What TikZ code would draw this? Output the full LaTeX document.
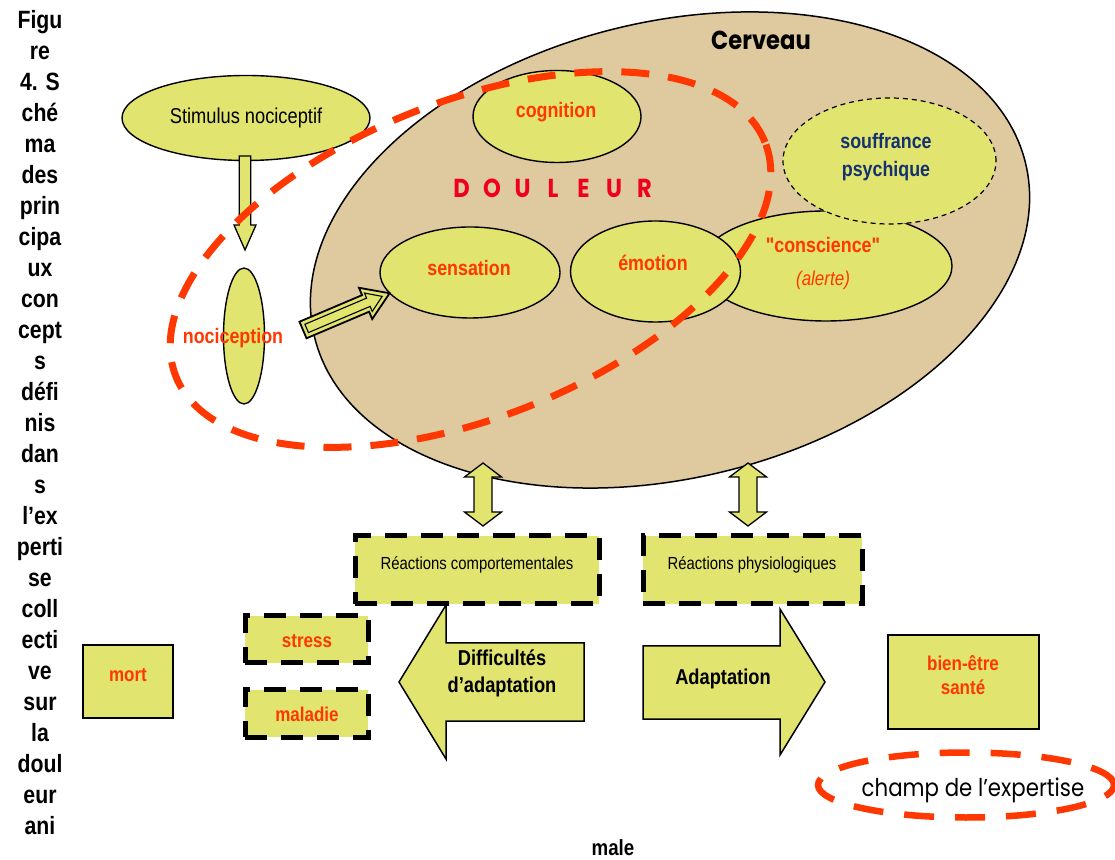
\documentclass[tikz,border=0pt]{standalone}
\usepackage{fontspec}
\setmainfont{Liberation Sans}
\newfontfamily\nar[FakeStretch=0.85]{Liberation Sans}
\newfontfamily\comic[FakeStretch=0.87]{Poppins}
\usetikzlibrary{shapes.geometric}
\definecolor{yel}{RGB}{225,228,110}
\definecolor{tan}{RGB}{222,202,158}
\definecolor{reddash}{RGB}{255,55,0}
\definecolor{redtxt}{RGB}{255,55,0}
\definecolor{doured}{RGB}{238,0,30}
\definecolor{soufblue}{RGB}{20,50,110}
\begin{document}
\begin{tikzpicture}[x=1pt,y=1pt,
 yell/.style={ellipse, draw=black, line width=1.4pt, fill=yel, inner sep=0pt},
 redlbl/.style={font=\nar\bfseries\fontsize{21}{25}\selectfont, text=redtxt, inner sep=0pt, align=center},
 blacklbl/.style={font=\nar\bfseries\fontsize{21.5}{27}\selectfont, text=black, inner sep=0pt, align=center},
 reglbl/.style={font=\nar\fontsize{17.5}{20}\selectfont, inner sep=0pt},
 dbox/.style={rectangle, fill=yel, draw=black, line width=5pt, dash pattern=on 22pt off 14pt, inner sep=0pt},
 sbox/.style={rectangle, fill=yel, draw=black, line width=1.8pt, inner sep=0pt},
 rdash/.style={ellipse, draw=reddash, line width=7pt, dash pattern=on 28pt off 19pt, inner sep=0pt},
 blockarrow/.style={fill=yel, draw=black, line width=1.5pt, line join=miter},
]
\useasboundingbox (0,0) rectangle (1115,859);

% caption
\node[font=\nar\bfseries\fontsize{25}{31}\selectfont, align=center, anchor=north, inner sep=0pt] (caption) at (40,849)
 {Figu\\re\\4. S\\ché\\ma\\des\\prin\\cipa\\ux\\con\\cept\\s\\défi\\nis\\dan\\s\\l’ex\\perti\\se\\coll\\ecti\\ve\\sur\\la\\doul\\eur\\ani};
\node[font=\nar\bfseries\fontsize{22}{26}\selectfont, inner sep=0pt] (male) at (613,11) {male};

% brain
\node[ellipse, draw=black, line width=1.5pt, fill=tan, minimum width=732pt, minimum height=456pt, inner sep=0pt, rotate=13.8] (brain) at (670,609) {};
\node[font=\comic\bfseries\fontsize{26}{30}\selectfont, inner sep=0pt] (cerveau) at (761,819) {Cerveau};

% stimulus
\node[yell, minimum width=248pt, minimum height=85pt, font=\nar\fontsize{21.5}{24}\selectfont] (stim) at (246,741) {Stimulus nociceptif};
\draw[blockarrow, line width=1.3pt] (239.3,703) -- (250.7,703) -- (250.7,634) -- (256,634) -- (245,609) -- (234,634) -- (239.3,634) -- cycle;

% nociception
\node[yell, minimum width=41pt, minimum height=136pt] (noci) at (244,523) {};
\node[redlbl] (nocitxt) at (233,521) {nociception};

% inner ellipses
\node[yell, minimum width=168pt, minimum height=92pt] (cogn) at (557,742.5) {};
\node[redlbl] (cogntxt) at (556,747) {cognition};
\node[yell, minimum width=180pt, minimum height=91pt] (sens) at (470,586.5) {};
\node[redlbl] (senstxt) at (469,591) {sensation};
\node[yell, minimum width=252pt, minimum height=110pt] (cons) at (826,593) {};
\node[ellipse, draw=black, line width=1.2pt, dash pattern=on 5pt off 4pt, fill=yel, inner sep=0pt, minimum width=213pt, minimum height=126pt] (souf) at (889.5,698) {};
\node[font=\nar\bfseries\fontsize{21}{28}\selectfont, text=soufblue, align=center, inner sep=0pt] (souftxt) at (886,702) {souffrance\\psychique};
\node[yell, minimum width=170pt, minimum height=101pt] (emo) at (655.5,587.5) {};
\node[redlbl] (emotxt) at (653,596) {émotion};
\node[redlbl] (constxt) at (823,614) {"conscience"};
\node[font=\nar\itshape\fontsize{20}{24}\selectfont, text=redtxt, inner sep=0pt] (alerte) at (823,579) {(alerte)};

% DOULEUR
\foreach \l [count=\i] in {D,O,U,L,E,U,R}
  \node[font=\comic\bfseries\fontsize{26}{30}\selectfont, text=doured, inner sep=0pt] (dl\i) at ({431+30.5*\i},671) {\l};

% hollow arrow nociception -> sensation
\begin{scope}[shift={(303,529)}, rotate=23]
  \draw[fill=yel, draw=black, line width=1.8pt, line join=miter] (0,-9) -- (68,-9) -- (68,-17) -- (94,0) -- (68,17) -- (68,9) -- (0,9) -- cycle;
  \draw[draw=black, line width=1.1pt, line join=miter] (4,-4.5) -- (71,-4.5) -- (71,-10) -- (86,0) -- (71,10) -- (71,4.5) -- (4,4.5) -- cycle;
\end{scope}

% red dashed douleur field
\node[rdash, minimum width=634pt, minimum height=316pt, rotate=21.7] (douleur) at (470.5,599.5) {};

% vertical double arrows
\foreach \x in {483,748}
  \draw[blockarrow, line width=1.3pt] (\x,396) -- (\x+18.5,382) -- (\x+9,382) -- (\x+9,347) -- (\x+18.5,347) -- (\x,333) -- (\x-18.5,347) -- (\x-9,347) -- (\x-9,382) -- (\x-18.5,382) -- cycle;

% reaction boxes
\node[dbox, minimum width=244pt, minimum height=68pt] (comp) at (477,289) {};
\node[reglbl] (comptxt) at (477,294) {Réactions comportementales};
\node[dbox, minimum width=219pt, minimum height=68pt] (phys) at (752.5,289) {};
\node[reglbl] (phystxt) at (752,294) {Réactions physiologiques};

% big arrows
\draw[blockarrow] (399,177) -- (446,254) -- (446,216) -- (584,216) -- (584,138) -- (446,138) -- (446,100) -- cycle;
\node[blacklbl] (diff) at (502,186) {Difficultés\\d’adaptation};
\draw[blockarrow] (825,177) -- (780,250) -- (780,213) -- (643,213) -- (643,140) -- (780,140) -- (780,104) -- cycle;
\node[blacklbl] (adapt) at (723,180) {Adaptation};

% outcome boxes
\node[dbox, minimum width=123pt, minimum height=47pt] (stress) at (306.5,219.5) {};
\node[redlbl, font=\nar\bfseries\fontsize{20}{24}\selectfont] (stresstxt) at (307,218) {stress};
\node[dbox, minimum width=123pt, minimum height=47pt] (mal) at (306.5,145.5) {};
\node[redlbl, font=\nar\bfseries\fontsize{20}{24}\selectfont] (maltxt) at (307,145) {maladie};
\node[sbox, minimum width=90pt, minimum height=73pt] (mort) at (128,177.5) {};
\node[redlbl, font=\nar\bfseries\fontsize{20}{24}\selectfont] (morttxt) at (128,184) {mort};
\node[sbox, minimum width=151pt, minimum height=94pt] (bien) at (963.5,177) {};
\node[redlbl, font=\nar\bfseries\fontsize{20}{24}\selectfont] (bientxt) at (963,184) {bien-être\\santé};

% champ de l'expertise
\node[rdash, minimum width=296pt, minimum height=65pt, line width=6.5pt, dash pattern=on 30pt off 21pt] (champ) at (966,74) {};
\node[font=\comic\fontsize{24.5}{28}\selectfont, inner sep=0pt] (champtxt) at (973,69) {champ de l’expertise};
\end{tikzpicture}
\end{document}
